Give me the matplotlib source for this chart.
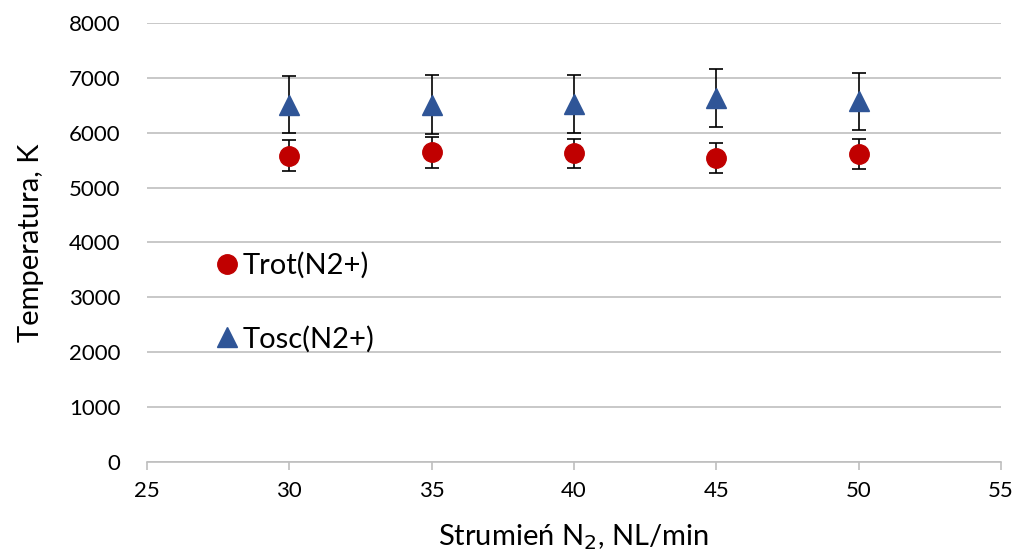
import matplotlib.pyplot as plt
from matplotlib.lines import Line2D

plt.rcParams['font.family'] = ['Lato', 'DejaVu Sans']

# Data
flow = [30, 35, 40, 45, 50]
t_rot = [5580, 5645, 5625, 5540, 5610]
t_rot_err = [280, 280, 270, 280, 275]
t_osc = [6510, 6510, 6530, 6630, 6570]
t_osc_err = [520, 540, 530, 530, 525]

rot_color = '#C00000'
osc_color = '#2F5597'

fig = plt.figure(figsize=(10.15, 5.56), dpi=100)
ax = fig.add_axes([0.1448, 0.1691, 0.8414, 0.7895])

ax.errorbar(flow, t_rot, yerr=t_rot_err, fmt='o', color=rot_color, ms=14,
            ecolor='black', elinewidth=1.2, capsize=5, capthick=1.2, zorder=3)
ax.errorbar(flow, t_osc, yerr=t_osc_err, fmt='^', color=osc_color, ms=15,
            ecolor='black', elinewidth=1.2, capsize=5, capthick=1.2, zorder=3)

ax.set_xlim(25, 55)
ax.set_ylim(0, 8000)
ax.set_xticks(range(25, 56, 5))
ax.set_yticks(range(0, 8001, 1000))
ax.grid(axis='y', color='#BFBFBF', linewidth=1.2)
ax.set_axisbelow(True)
for s in ['top', 'right', 'left']:
    ax.spines[s].set_visible(False)
ax.spines['bottom'].set_color('#BFBFBF')
ax.spines['bottom'].set_linewidth(1.2)
ax.tick_params(axis='y', length=0, labelsize=16, pad=19)
ax.tick_params(axis='x', length=6, width=1.2, color='#BFBFBF', labelsize=16, pad=8)

ax.set_xlabel('Strumień N$_2$, NL/min', fontsize=21, labelpad=15)
ax.set_ylabel('Temperatura, K', fontsize=21, labelpad=18)

handles = [Line2D([], [], ls='none', marker='o', color=rot_color, ms=14),
           Line2D([], [], ls='none', marker='^', color=osc_color, ms=14)]
ax.legend(handles, ['Trot(N2+)', 'Tosc(N2+)'], loc='upper left',
          bbox_to_anchor=(0.063, 0.505), frameon=False, fontsize=21,
          labelspacing=1.6, handletextpad=0.05, handlelength=1.0,
          borderaxespad=0)

fig.savefig('out.png', dpi=100)
